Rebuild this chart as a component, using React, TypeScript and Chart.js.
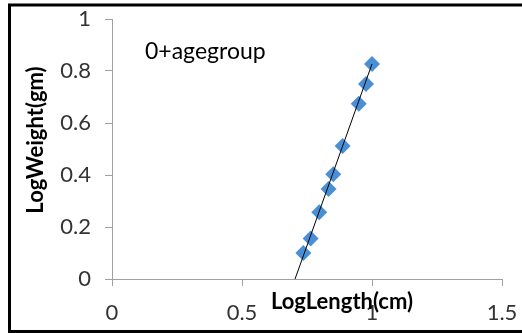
import React, { useEffect, useRef } from "react";
import { Chart, registerables } from "chart.js";

Chart.register(...registerables);

const lengthValues = [1.0, 0.977, 0.949, 0.887, 0.851, 0.833, 0.797, 0.764, 0.736];
const weightValues = [0.827, 0.75, 0.674, 0.512, 0.403, 0.346, 0.257, 0.156, 0.1];
const trendX = [0.704, 1.0];
const trendY = [0.0, 0.827];
const xTicks = [0, 0.5, 1, 1.5];
const yTicks = [0, 0.2, 0.4, 0.6, 0.8, 1];
const xTitle = "LogLength(cm)";
const yTitle = "LogWeight(gm)";
const annotation = "0+agegroup";

const FONT = "Lato";

const overlayPlugin = {
  id: "overlay",
  afterDraw(chart: any) {
    const ctx = chart.ctx;
    ctx.save();
    // outer border
    ctx.strokeStyle = "#000";
    ctx.lineWidth = 3;
    ctx.strokeRect(9.5, 5, 540, 326.5);
    // annotation
    ctx.fillStyle = "#000";
    ctx.font = `23px ${FONT}`;
    ctx.textAlign = "left";
    ctx.textBaseline = "middle";
    ctx.fillText(annotation, 145, 52);
    // x title
    ctx.font = `bold 22px ${FONT}`;
    ctx.textAlign = "center";
    ctx.fillText(xTitle, 342, 302);
    // y title
    ctx.translate(36, 140);
    ctx.rotate(-Math.PI / 2);
    ctx.fillText(yTitle, 0, 0);
    ctx.restore();
  },
};

export default function App() {
  const ref = useRef<HTMLCanvasElement>(null);
  useEffect(() => {
    const chart = new Chart(ref.current!, {
      type: "scatter",
      data: {
        datasets: [
          {
            type: "line",
            data: trendX.map((x, i) => ({ x, y: trendY[i] })),
            borderColor: "#000",
            borderWidth: 1,
            pointRadius: 0,
            fill: false,
          },
          {
            data: lengthValues.map((x, i) => ({ x, y: weightValues[i] })),
            pointStyle: "rectRot",
            pointRadius: 8,
            backgroundColor: "#4a8fd6",
            borderColor: "#4a8fd6",
            borderWidth: 0,
          },
        ],
      } as any,
      options: {
        animation: false,
        responsive: false,
        layout: { padding: { left: 0, top: 19, right: 20, bottom: 0 } },
        plugins: { legend: { display: false }, tooltip: { enabled: false } },
        scales: {
          x: {
            type: "linear",
            min: 0,
            max: 1.5,
            afterBuildTicks: (s: any) => {
              s.ticks = xTicks.map((v) => ({ value: v }));
            },
            afterFit: (s: any) => {
              s.height = 54;
              s.paddingLeft = 0;
              s.paddingRight = 0;
            },
            grid: { drawOnChartArea: false, color: "#a0a0a0", tickLength: 7, tickColor: "#a0a0a0" },
            border: { color: "#a0a0a0" },
            ticks: {
              color: "#333",
              padding: 14,
              maxRotation: 0,
              font: { family: FONT, size: 22 },
              callback: (v: any) => String(v),
            },
          },
          y: {
            type: "linear",
            min: 0,
            max: 1,
            afterBuildTicks: (s: any) => {
              s.ticks = yTicks.map((v) => ({ value: v }));
            },
            afterFit: (s: any) => {
              s.width = 112;
              s.paddingTop = 0;
              s.paddingBottom = 0;
            },
            grid: { drawOnChartArea: false, color: "#a0a0a0", tickLength: 7, tickColor: "#a0a0a0" },
            border: { color: "#a0a0a0" },
            ticks: {
              color: "#333",
              padding: 14,
              font: { family: FONT, size: 22 },
              callback: (v: any) => String(v),
            },
          },
        },
      },
      plugins: [overlayPlugin],
    });
    return () => chart.destroy();
  }, []);
  return (
    <div style={{ position: "absolute", left: 0, top: 0, width: 522, height: 333, background: "#fff" }}>
      <canvas ref={ref} width={522} height={333} />
    </div>
  );
}
